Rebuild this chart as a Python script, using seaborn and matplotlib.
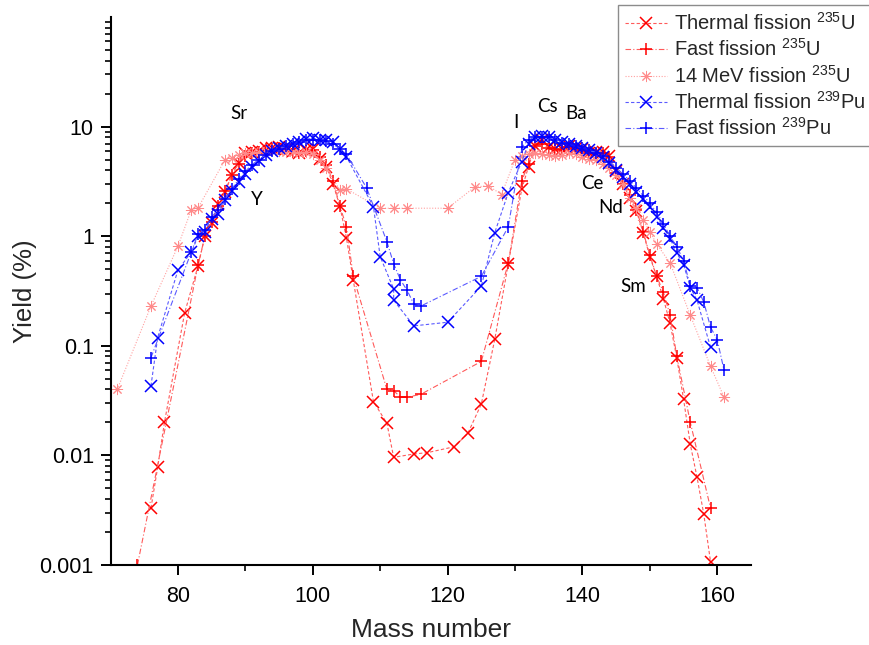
import matplotlib
matplotlib.use("Agg")
import matplotlib.pyplot as plt
import seaborn as sns
import pandas as pd

# ---- fission product yields (%), by mass number ----
mass_u235_thermal = [76, 77, 78, 81] + list(range(83, 107)) + \
    [109, 111, 112, 115, 117, 121, 123, 125, 127, 129] + list(range(131, 160))
yield_u235_thermal = [0.0033, 0.0078, 0.020, 0.20,
                      0.54, 1.0, 1.32, 1.95, 2.55, 3.6, 4.7, 5.8, 5.9, 6.0, 6.4, 6.4,
                      6.5, 6.3, 6.0, 5.8, 6.1, 6.3, 5.1, 4.3, 3.0, 1.9, 0.96, 0.40,
                      0.031, 0.0196, 0.0096, 0.0103, 0.0106, 0.012, 0.0159, 0.0294, 0.115, 0.56,
                      2.7, 4.3, 6.7, 7.6, 6.5, 6.3, 6.2, 6.7, 6.4, 6.2, 5.8, 5.9, 5.9, 5.4,
                      3.9, 3.0, 2.25, 1.7, 1.08, 0.65, 0.43, 0.27, 0.16, 0.077, 0.0325,
                      0.0126, 0.0063, 0.0029, 0.00107]

mass_u235_fast = [74] + list(range(83, 107)) + [111, 112, 113, 114, 116, 125, 129] + \
    list(range(131, 155)) + [156, 159]
yield_u235_fast = [0.001,
                   0.55, 1.0, 1.36, 1.9, 2.6, 3.6, 4.6, 5.4, 5.8, 5.9, 6.3, 6.3, 6.4, 6.2,
                   5.9, 5.8, 6.0, 6.1, 5.3, 4.5, 3.2, 1.9, 1.22, 0.43,
                   0.040, 0.039, 0.034, 0.034, 0.036, 0.072, 0.57,
                   3.2, 4.6, 6.6, 7.0, 6.4, 6.2, 6.1, 6.5, 6.2, 6.0, 5.7, 5.6, 5.7, 5.3,
                   3.8, 3.0, 2.4, 1.75, 1.1, 0.67, 0.43, 0.31, 0.19, 0.08,
                   0.020, 0.0033]

mass_u235_14mev = [71, 76, 80, 82, 83] + list(range(87, 103)) + \
    [104, 105, 110, 112, 114, 120, 124, 126, 128] + list(range(130, 152)) + [153, 156, 159, 161]
yield_u235_14mev = [0.040, 0.23, 0.81, 1.75, 1.82,
                    5.0, 5.2, 5.5, 5.7, 5.8, 5.9, 6.0, 6.1, 6.0, 5.9, 5.9, 5.8, 5.9, 5.6, 5.0, 4.2,
                    2.65, 2.7, 1.8, 1.8, 1.8, 1.8, 2.8, 2.9, 2.4,
                    5.0, 5.4, 5.6, 5.8, 5.6, 5.5, 5.4, 5.5, 5.7, 5.6, 5.3, 5.1, 5.0, 4.6, 4.2,
                    3.6, 3.0, 2.25, 1.8, 1.4, 1.1, 0.85,
                    0.57, 0.19, 0.065, 0.034]

mass_pu239_thermal = [76, 77, 80, 82] + list(range(83, 106)) + \
    [109, 110, 112, 112, 115, 120, 125, 127, 129] + list(range(131, 158)) + [159]
yield_pu239_thermal = [0.043, 0.119, 0.49, 0.72,
                       1.0, 1.1, 1.45, 1.6, 2.15, 2.6, 3.1, 3.7, 4.3, 4.9, 5.5, 6.0, 6.4, 6.6,
                       6.9, 7.3, 7.7, 7.8, 7.6, 7.6, 7.2, 6.3, 5.3,
                       1.86, 0.65, 0.33, 0.26, 0.152, 0.164, 0.35, 1.08, 2.5,
                       4.8, 7.0, 8.0, 8.2, 8.1, 7.6, 7.2, 7.0, 6.7, 6.4, 6.1, 5.8, 5.3, 4.7,
                       4.0, 3.5, 3.0, 2.55, 2.2, 1.85, 1.5, 1.2, 0.95, 0.70, 0.55, 0.34, 0.26,
                       0.097]

mass_pu239_fast = [76, 82] + list(range(83, 106)) + \
    [108, 111, 112, 113, 114, 115, 116, 125, 129] + list(range(131, 162))
yield_pu239_fast = [0.078, 0.72,
                    1.05, 1.15, 1.5, 1.75, 2.2, 2.7, 3.3, 3.9, 4.5, 5.0, 5.5, 6.0, 6.3, 6.6,
                    6.9, 7.2, 7.5, 7.6, 7.5, 7.4, 6.9, 6.3, 5.6,
                    2.75, 0.89, 0.56, 0.40, 0.32, 0.24, 0.23, 0.43, 1.22,
                    6.5, 7.6, 8.0, 8.1, 8.0, 7.5, 7.1, 6.9, 6.6, 6.4, 6.1, 5.8, 5.4, 4.8,
                    4.2, 3.7, 3.2, 2.75, 2.35, 2.0, 1.65, 1.3, 1.0, 0.80, 0.60, 0.35, 0.34,
                    0.25, 0.148, 0.113, 0.060]

series_labels = [r"Thermal fission $^{235}$U", r"Fast fission $^{235}$U",
                 r"14 MeV fission $^{235}$U", r"Thermal fission $^{239}$Pu",
                 r"Fast fission $^{239}$Pu"]

element_labels = ["Sr", "Y", "I", "Cs", "Ba", "Ce", "Nd", "Sm"]
element_mass = [89.0, 91.7, 130.2, 134.8, 139.1, 141.5, 144.2, 147.6]
element_yield = [13.3, 2.14, 11.0, 15.4, 13.3, 3.0, 1.81, 0.344]

# ---- styling ----
sns.set_style("ticks")
plt.rcParams["font.family"] = ["Liberation Sans", "DejaVu Sans"]
plt.rcParams["mathtext.fontset"] = "custom"
plt.rcParams["mathtext.rm"] = "Liberation Sans"
plt.rcParams["mathtext.it"] = "Liberation Sans:italic"

styles = [
    dict(marker="x", linestyle=(0, (3, 2)), color="#ff5a5a", mec="#ff0000", mew=1.1),
    dict(marker="+", linestyle=(0, (5, 2, 1, 2)), color="#ff5a5a", mec="#ff0000", mew=1.1),
    dict(marker=(8, 2, 0), linestyle=(0, (1, 1.5)), color="#ffa0a0", mec="#ff8a8a", mew=0.7),
    dict(marker="x", linestyle=(0, (3, 2)), color="#5a5aff", mec="#0000ff", mew=1.1),
    dict(marker="+", linestyle=(0, (5, 2, 1, 2)), color="#5a5aff", mec="#0000ff", mew=1.1),
]

data = [
    (mass_u235_thermal, yield_u235_thermal),
    (mass_u235_fast, yield_u235_fast),
    (mass_u235_14mev, yield_u235_14mev),
    (mass_pu239_thermal, yield_pu239_thermal),
    (mass_pu239_fast, yield_pu239_fast),
]

fig = plt.figure(figsize=(8.69, 6.45), dpi=100)
ax = fig.add_axes([110.5 / 869, 1 - 565 / 645, (751 - 110.5) / 869, (565 - 17) / 645])

for (m, y), lab, st in zip(data, series_labels, styles):
    df = pd.DataFrame({"Mass number": m, "Yield": y})
    sns.lineplot(data=df, x="Mass number", y="Yield", ax=ax, sort=False, estimator=None,
                 label=lab, marker=st["marker"], linestyle=st["linestyle"],
                 color=st["color"], mec=st["mec"], mfc=st["mec"],
                 markersize=8, markeredgewidth=st["mew"], linewidth=0.8)

ax.set_yscale("log")
ax.set_xlim(70, 165)
ax.set_ylim(0.001, 100)
ax.set_xticks([80, 100, 120, 140, 160])
ax.set_xticks([90, 110, 130, 150], minor=True)
ax.set_yticks([0.001, 0.01, 0.1, 1, 10])
ax.set_yticklabels(["0.001", "0.01", "0.1", "1", "10"])
ax.yaxis.set_minor_locator(matplotlib.ticker.LogLocator(base=10, subs=range(2, 10), numticks=20))
ax.yaxis.set_minor_formatter(matplotlib.ticker.NullFormatter())

ax.tick_params(axis="both", which="major", direction="out", length=7, width=1.4,
               labelsize=15.5, color="black", labelcolor="black")
ax.tick_params(axis="x", which="major", pad=8)
ax.tick_params(axis="y", which="major", pad=5)
ax.tick_params(axis="both", which="minor", direction="out", length=4, width=1.2, color="black")
for s in ["left", "bottom"]:
    ax.spines[s].set_linewidth(1.5)
    ax.spines[s].set_color("black")
sns.despine(ax=ax)

ax.set_xlabel("Mass number", fontsize=19, labelpad=8)
ax.set_ylabel("Yield (%)", fontsize=18.5, labelpad=2)

for lab, mx, my in zip(element_labels, element_mass, element_yield):
    ax.text(mx, my, lab, fontsize=13.5, family=["Lato", "DejaVu Sans"],
            ha="center", va="center", color="black")

handles, labels = ax.get_legend_handles_labels()
ax.legend_.remove()
leg = fig.legend(handles, labels, loc="upper left",
                 bbox_to_anchor=(618 / 869, 1 - 5 / 645), bbox_transform=fig.transFigure,
                 fontsize=14.5, frameon=True, fancybox=False, framealpha=1,
                 edgecolor="#8c8c8c", handlelength=2.1, handletextpad=0.35,
                 labelspacing=0.22, borderpad=0.35, borderaxespad=0)
leg.get_frame().set_linewidth(1.0)

fig.savefig("out.png", dpi=100)
